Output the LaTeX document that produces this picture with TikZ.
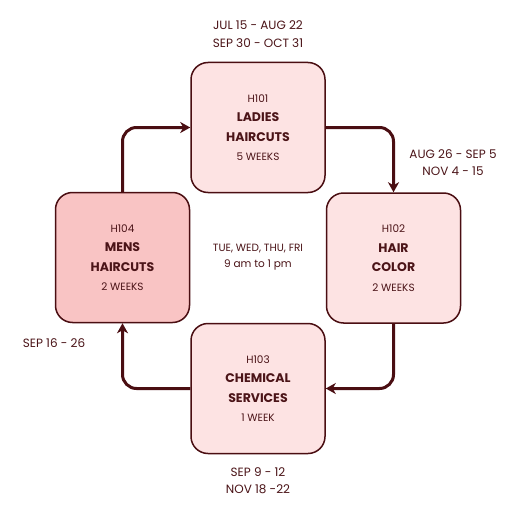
\documentclass[tikz,border=0pt]{standalone}
\usepackage{fontspec}
\setmainfont{Poppins}
\usetikzlibrary{arrows.meta}
\definecolor{maroon}{HTML}{4A0E12}
\definecolor{txt}{HTML}{4B1418}
\definecolor{lightpink}{HTML}{FDE3E3}
\definecolor{midpink}{HTML}{F9C4C4}
\tikzset{
  box/.style={draw=maroon, line width=1.5pt, rounded corners=17pt, minimum width=134pt, minimum height=130pt, fill=lightpink, align=center, text=txt, font=\fontsize{10.5}{19.5}\selectfont, inner sep=0pt},
  conn/.style={draw=maroon, line width=3pt, rounded corners=14pt, -{Stealth[length=10pt,width=11pt,inset=3pt]}},
  lbl/.style={align=center, text=txt, font=\fontsize{12}{17.3}\selectfont, inner sep=0pt},
  ctr/.style={align=center, text=txt, font=\fontsize{10.5}{16.5}\selectfont, inner sep=0pt}
}
\newcommand{\bigtxt}[1]{{\fontsize{12.5}{19.5}\selectfont\bfseries #1}}
\begin{document}
\begin{tikzpicture}[x=1pt,y=-1pt]
\useasboundingbox (0,0) rectangle (516,516);
\fill[white] (0,0) rectangle (516,516);
\node[box] (h101) at (258,127.5) {H101\\\bigtxt{LADIES}\\\bigtxt{HAIRCUTS}\\5 WEEKS};
\node[box] (h102) at (393.5,258) {H102\\\bigtxt{HAIR}\\\bigtxt{COLOR}\\2 WEEKS};
\node[box] (h103) at (258,388.5) {H103\\\bigtxt{CHEMICAL}\\\bigtxt{SERVICES}\\1 WEEK};
\node[box, fill=midpink] (h104) at (122.5,257.5) {H104\\\bigtxt{MENS}\\\bigtxt{HAIRCUTS}\\2 WEEKS};
\draw[conn] (h101.east) -| (h102.north);
\draw[conn] (h102.south) |- (h103.east);
\draw[conn] (h103.west) -| (h104.south);
\draw[conn] (h104.north) |- (h101.west);
\node[lbl] (d1) at (258,34) {JUL 15 - AUG 22\\SEP 30 - OCT 31};
\node[lbl] (d2) at (453,162.5) {AUG 26 - SEP 5\\NOV 4 - 15};
\node[lbl] (d3) at (258,480.5) {SEP 9 - 12\\NOV 18 -22};
\node[lbl] (d4) at (54,343) {SEP 16 - 26};
\node[ctr] (c) at (258,257) {TUE, WED, THU, FRI\\9 am to 1 pm};
\end{tikzpicture}
\end{document}
